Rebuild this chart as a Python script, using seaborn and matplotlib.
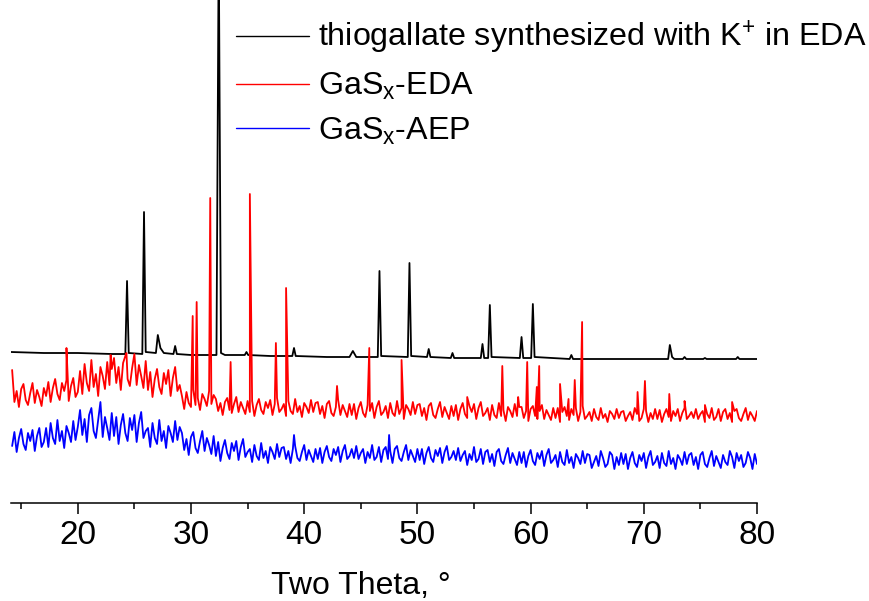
import numpy as np
import pandas as pd
import matplotlib
matplotlib.use("Agg")
import matplotlib.pyplot as plt
import seaborn as sns
from matplotlib.ticker import MultipleLocator

# ---------------- data (intensity in arbitrary units) -------------
labels = ["thiogallate synthesized with K$^{+}$ in EDA", "GaS$_{x}$-EDA", "GaS$_{x}$-AEP"]
colors = ["#000000", "#ff0000", "#0000ff"]

# black trace: baseline points and sharp reflections
black_x = [14.1, 17.0, 20.0, 23.0,
           24.2, 24.35, 24.5, 25.7, 25.85, 26.0, 26.9, 27.07, 27.3, 27.6,
           28.45, 28.6, 28.75, 30.0, 32.25, 32.45, 32.65, 33.0,
           34.75, 34.9, 35.05, 37.0, 38.95, 39.1, 39.25, 42.0,
           44.0, 44.3, 44.6, 46.5, 46.65, 46.8, 49.15, 49.3, 49.45,
           50.85, 51.0, 51.15, 52.95, 53.1, 53.25, 55.6, 55.75, 55.9,
           56.25, 56.4, 56.55, 59.05, 59.2, 59.35, 60.05, 60.2, 60.35,
           63.45, 63.6, 63.75, 67.0, 72.15, 72.3, 72.5, 72.7,
           73.45, 73.6, 73.75, 75.25, 75.4, 75.55, 78.15, 78.3, 78.45, 80.0]
black_y = [148, 147, 147, 146,
           146, 219, 147, 146, 288, 148, 147, 165, 152, 147,
           146, 154, 146, 145, 145, 560, 147, 145,
           145, 148, 145, 144, 144, 152, 144, 143,
           143, 149, 143, 143, 229, 144, 143, 237, 144,
           143, 151, 143, 142, 147, 142, 142, 156, 142,
           142, 195, 143, 142, 163, 142, 142, 196, 143,
           141, 145, 141, 141, 141, 155, 143, 141,
           141, 143, 141, 141, 142, 141, 141, 143, 141, 141]

# noisy traces, read every 0.2 degree from 14.2 to 80.0 (15 readings per 3 degrees)
grid_x = np.linspace(14.2, 80.0, 330)
red_band = [
    130, 98, 109, 93, 111, 116, 100, 95, 107, 117, 97, 110, 103, 94, 112,
    104, 118, 98, 112, 121, 106, 100, 117, 109, 120, 99, 114, 122, 103, 108,
    129, 106, 136, 117, 109, 140, 113, 126, 104, 133, 124, 111, 138, 115, 131,
    142, 117, 133, 110, 137, 144, 121, 114, 132, 146, 115, 135, 124, 112, 139,
    110, 128, 103, 121, 131, 113, 106, 127, 116, 130, 104, 122, 133, 109, 115,
    104, 91, 108, 97, 93, 110, 95, 102, 90, 106, 101, 94, 109, 96, 105,
    101, 89, 97, 85, 98, 102, 90, 87, 96, 103, 88, 98, 92, 86, 99,
    88, 99, 84, 95, 101, 90, 86, 98, 92, 100, 85, 96, 102, 88, 91,
    96, 84, 99, 89, 86, 101, 88, 94, 83, 97, 93, 87, 100, 88, 97,
    98, 86, 94, 82, 96, 99, 87, 84, 93, 100, 85, 95, 89, 83, 96,
    85, 96, 81, 92, 98, 87, 83, 95, 89, 97, 82, 93, 99, 85, 88,
    94, 82, 97, 87, 84, 99, 86, 92, 81, 95, 91, 85, 98, 86, 95,
    96, 84, 92, 80, 94, 97, 85, 82, 91, 98, 83, 93, 87, 81, 94,
    84, 95, 80, 91, 97, 86, 82, 94, 88, 96, 81, 92, 98, 84, 87,
    92, 80, 95, 85, 82, 97, 84, 90, 79, 93, 89, 83, 96, 84, 93,
    93, 82, 89, 79, 91, 94, 84, 81, 89, 95, 81, 90, 85, 80, 92,
    82, 92, 78, 88, 93, 84, 80, 91, 85, 92, 79, 88, 94, 81, 84,
    88, 79, 91, 83, 80, 92, 82, 86, 78, 89, 86, 81, 91, 82, 88,
    89, 79, 84, 88, 80, 92, 86, 79, 82, 91, 89, 78, 87, 81, 91,
    81, 90, 78, 86, 91, 83, 79, 89, 84, 91, 79, 87, 92, 81, 84,
    88, 82, 91, 81, 86, 89, 78, 86, 82, 92, 80, 83, 91, 79, 88,
    91, 81, 87, 78, 89, 91, 82, 79, 86, 92, 80, 88, 84, 79, 89]
red_peak_x = [19.0, 22.9, 24.3, 30.15, 30.5, 31.7, 33.5, 35.2, 37.5, 38.4, 42.9, 45.75,
              48.6, 54.4, 57.5, 58.9, 59.7, 60.55, 60.76, 62.6, 63.35, 63.9, 64.55,
              69.45, 70.1, 72.25, 73.6, 75.4, 77.8]
red_peak_y = [152, 145, 147, 184, 198, 302, 138, 306, 157, 212, 114, 152,
              140, 103, 134, 103, 138, 113, 134, 116, 101, 120, 178,
              108, 119, 106, 99, 95, 98]

blue_band = [
    54, 68, 48, 62, 71, 56, 50, 67, 59, 70, 49, 64, 72, 53, 58,
    72, 53, 77, 62, 56, 80, 59, 69, 52, 74, 67, 58, 79, 60, 73,
    90, 65, 81, 58, 85, 92, 69, 62, 80, 98, 63, 83, 72, 60, 87,
    64, 83, 56, 75, 86, 67, 59, 82, 70, 85, 58, 77, 88, 62, 69,
    72, 53, 77, 62, 56, 80, 59, 69, 52, 74, 67, 58, 79, 60, 73,
    67, 50, 61, 45, 63, 68, 52, 47, 59, 69, 49, 62, 55, 46, 64,
    44, 58, 39, 52, 60, 47, 41, 57, 49, 59, 40, 53, 61, 43, 48,
    51, 38, 55, 44, 40, 57, 42, 49, 37, 53, 48, 41, 56, 43, 52,
    53, 41, 49, 37, 51, 54, 42, 39, 48, 55, 40, 50, 44, 38, 51,
    41, 52, 37, 48, 54, 43, 39, 51, 45, 53, 38, 49, 55, 41, 44,
    51, 42, 54, 41, 47, 51, 37, 48, 42, 55, 40, 43, 53, 38, 50,
    53, 41, 49, 37, 51, 54, 42, 39, 48, 55, 40, 50, 44, 38, 51,
    40, 51, 36, 47, 53, 42, 38, 50, 44, 52, 37, 48, 54, 40, 43,
    49, 40, 52, 39, 45, 49, 35, 46, 40, 53, 38, 41, 51, 36, 48,
    50, 38, 46, 34, 48, 51, 39, 36, 45, 52, 37, 47, 41, 35, 48,
    37, 48, 33, 44, 50, 39, 35, 47, 41, 49, 34, 45, 51, 37, 40,
    45, 33, 48, 38, 35, 50, 37, 43, 32, 46, 42, 36, 49, 37, 46,
    45, 32, 38, 44, 34, 49, 42, 33, 36, 48, 45, 31, 43, 35, 47,
    36, 46, 31, 42, 48, 37, 33, 45, 39, 47, 32, 43, 49, 35, 38,
    44, 32, 47, 37, 34, 49, 36, 42, 31, 45, 41, 35, 48, 36, 45,
    47, 35, 43, 31, 45, 48, 36, 33, 42, 49, 34, 44, 38, 32, 45,
    38, 35, 49, 43, 32, 47, 39, 45, 33, 37, 48, 42, 31, 46, 36]
blue_peak_x = [39.1, 47.5]
blue_peak_y = [65, 65]

x_ticks = [20, 30, 40, 50, 60, 70, 80]
x_label = "Two Theta, °"

# ---------------- build a long table ----------------
def merged(bx, by, px, py):
    xs = np.concatenate([np.asarray(bx, float), np.asarray(px, float)])
    ys = np.concatenate([np.asarray(by, float), np.asarray(py, float)])
    o = np.argsort(xs, kind="stable")
    return xs[o], ys[o]

rx, ry = merged(grid_x, red_band, red_peak_x, red_peak_y)
bx, by = merged(grid_x, blue_band, blue_peak_x, blue_peak_y)
frames = [
    pd.DataFrame({"two_theta": black_x, "intensity": black_y, "sample": labels[0]}),
    pd.DataFrame({"two_theta": rx, "intensity": ry, "sample": labels[1]}),
    pd.DataFrame({"two_theta": bx, "intensity": by, "sample": labels[2]}),
]
df = pd.concat(frames, ignore_index=True)

# ---------------- plot ----------------
sns.set_style("ticks")
plt.rcParams["font.family"] = ["Liberation Sans", "DejaVu Sans"]
plt.rcParams["mathtext.default"] = "regular"
plt.rcParams["text.color"] = "black"
plt.rcParams["axes.labelcolor"] = "black"
plt.rcParams["xtick.color"] = "black"

W, H = 869, 601
fig = plt.figure(figsize=(W / 100, H / 100), dpi=100)
ax_bottom = 503.3
ax_left, ax_right = 11, 757
ax = fig.add_axes([ax_left / W, (H - ax_bottom) / H, (ax_right - ax_left) / W, ax_bottom / H])

sns.lineplot(data=df, x="two_theta", y="intensity", hue="sample", hue_order=labels,
             palette=colors, estimator=None, sort=False, lw=1.3, ax=ax, legend=True)

ax.set_xlim(14.1, 80)
ax.set_ylim(-3.3, 500)
for s in ["left", "right", "top"]:
    ax.spines[s].set_visible(False)
ax.spines["bottom"].set_linewidth(1.1)
ax.spines["bottom"].set_color("black")
ax.set_yticks([])
ax.set_ylabel("")
ax.set_xticks(x_ticks)
ax.xaxis.set_minor_locator(MultipleLocator(5))
ax.tick_params(axis="x", which="major", direction="out", length=8, width=1.1,
               labelsize=24, pad=4, colors="black")
ax.tick_params(axis="x", which="minor", direction="out", length=4.3, width=1.1, colors="black")
ax.set_xlabel(x_label, fontsize=23, color="black")
ax.xaxis.set_label_coords(0.469, -0.135)

handles, labs = ax.get_legend_handles_labels()
for h in handles:
    h.set_linewidth(1.0)
ax.legend(handles, labs, loc="upper left", bbox_to_anchor=(236 / W, 1 - 19 / H),
          bbox_transform=fig.transFigure, frameon=False, fontsize=23.2,
          handlelength=2.26, handletextpad=0.3, borderpad=0, borderaxespad=0,
          labelspacing=0.42)

fig.savefig("out.png", dpi=100)
